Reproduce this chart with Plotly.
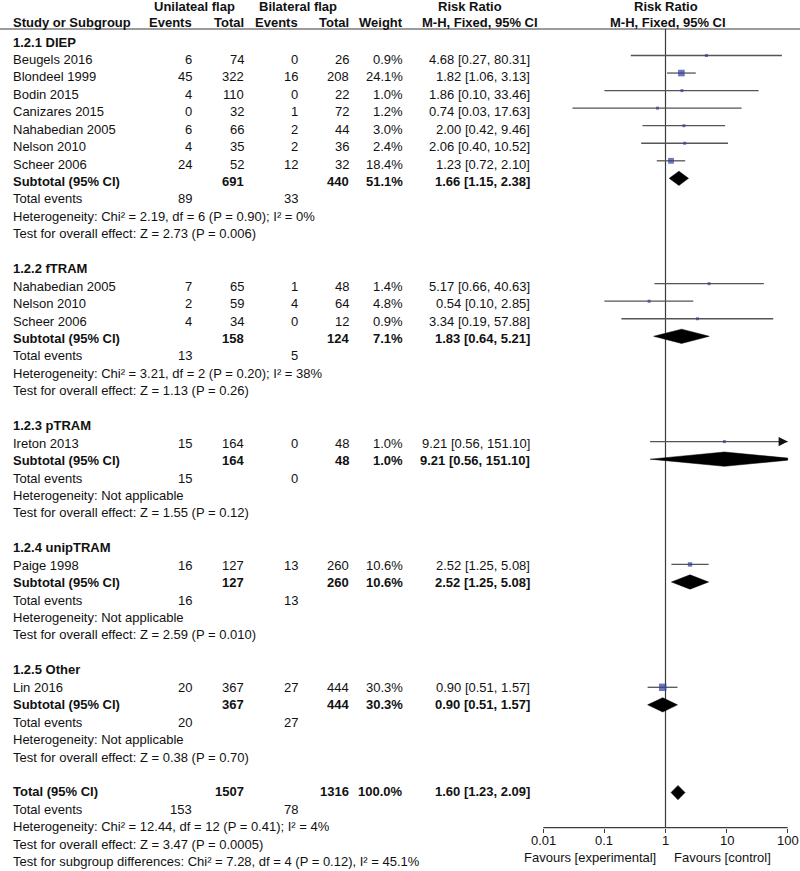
import math
import plotly.graph_objects as go

# ---------------- data ----------------
group_labels = ["1.2.1 DIEP", "1.2.2 fTRAM", "1.2.3 pTRAM", "1.2.4 unipTRAM", "1.2.5 Other"]

study_group = [0, 0, 0, 0, 0, 0, 0, 1, 1, 1, 2, 3, 4]
study_names = ["Beugels 2016", "Blondeel 1999", "Bodin 2015", "Canizares 2015",
               "Nahabedian 2005", "Nelson 2010", "Scheer 2006",
               "Nahabedian 2005", "Nelson 2010", "Scheer 2006",
               "Ireton 2013", "Paige 1998", "Lin 2016"]
uni_events = [6, 45, 4, 0, 6, 4, 24, 7, 2, 4, 15, 16, 20]
uni_total = [74, 322, 110, 32, 66, 35, 52, 65, 59, 34, 164, 127, 367]
bi_events = [0, 16, 0, 1, 2, 2, 12, 1, 4, 0, 0, 13, 27]
bi_total = [26, 208, 22, 72, 44, 36, 32, 48, 64, 12, 48, 260, 444]
weights = [0.9, 24.1, 1.0, 1.2, 3.0, 2.4, 18.4, 1.4, 4.8, 0.9, 1.0, 10.6, 30.3]
rr = [4.68, 1.82, 1.86, 0.74, 2.00, 2.06, 1.23, 5.17, 0.54, 3.34, 9.21, 2.52, 0.90]
rr_lo = [0.27, 1.06, 0.10, 0.03, 0.42, 0.40, 0.72, 0.66, 0.10, 0.19, 0.56, 1.25, 0.51]
rr_hi = [80.31, 3.13, 33.46, 17.63, 9.46, 10.52, 2.10, 40.63, 2.85, 57.88, 151.10, 5.08, 1.57]

sub_uni_total = [691, 158, 164, 127, 367]
sub_bi_total = [440, 124, 48, 260, 444]
sub_weight = [51.1, 7.1, 1.0, 10.6, 30.3]
sub_rr = [1.66, 1.83, 9.21, 2.52, 0.90]
sub_lo = [1.15, 0.64, 0.56, 1.25, 0.51]
sub_hi = [2.38, 5.21, 151.10, 5.08, 1.57]
sub_uni_events = [89, 13, 15, 16, 20]
sub_bi_events = [33, 5, 0, 13, 27]
sub_heterogeneity = ["Heterogeneity: Chi² = 2.19, df = 6 (P = 0.90); I² = 0%",
                     "Heterogeneity: Chi² = 3.21, df = 2 (P = 0.20); I² = 38%",
                     "Heterogeneity: Not applicable",
                     "Heterogeneity: Not applicable",
                     "Heterogeneity: Not applicable"]
sub_overall = ["Test for overall effect: Z = 2.73 (P = 0.006)",
               "Test for overall effect: Z = 1.13 (P = 0.26)",
               "Test for overall effect: Z = 1.55 (P = 0.12)",
               "Test for overall effect: Z = 2.59 (P = 0.010)",
               "Test for overall effect: Z = 0.38 (P = 0.70)"]

total_uni_total = 1507
total_bi_total = 1316
total_weight = 100.0
total_rr, total_lo, total_hi = 1.60, 1.23, 2.09
total_uni_events, total_bi_events = 153, 78
total_notes = ["Heterogeneity: Chi² = 12.44, df = 12 (P = 0.41); I² = 4%",
               "Test for overall effect: Z = 3.47 (P = 0.0005)",
               "Test for subgroup differences: Chi² = 7.28, df = 4 (P = 0.12), I² = 45.1%"]

tick_vals = [0.01, 0.1, 1, 10, 100]
tick_text = ["0.01", "0.1", "1", "10", "100"]
favours_left = "Favours [experimental]"
favours_right = "Favours [control]"

# ---------------- geometry ----------------
W, H = 800, 871
ROW0 = 42.0           # pixel y of first text row
ROWH = 17.44          # pixels per text row
FROW0, FROWH = 37.95, 17.55   # pixel y / spacing of forest-plot rows
X_LO, X_HI = 543.3, 787.7     # pixel positions of 0.01 and 100
PPD = (X_HI - X_LO) / 4.0
DOM_L = 500.0

FONT = "Liberation Sans, Arial, sans-serif"
FS = 13
TXT = "#111111"

def px(x):
    return x / W

def prow(y):
    return (y - ROW0) / ROWH

def frow(r):
    return prow(FROW0 + FROWH * r)

fig = go.Figure()
ann = []

def text(x, row, s, anchor="left", bold=False, size=FS, xref="paper"):
    ann.append(dict(x=px(x) if xref == "paper" else x, y=row, xref=xref, yref="y",
                    text=("<b>%s</b>" % s) if bold else s,
                    showarrow=False, xanchor=anchor, yanchor="middle",
                    font=dict(family=FONT, size=size, color=TXT)))

# column right edges
C_NAME = 11
C_UE = 194
C_UT = 246
C_BE = 300
C_BT = 351
C_W = 405
C_RR = 532

# headers
r1 = prow(6.3)
text(194, r1, "Unilateal flap", "center", True)
text(298, r1, "Bilateral flap", "center", True)
text(470, r1, "Risk Ratio", "center", True)
text(666, r1, "Risk Ratio", "center", True)
HR = prow(22.5)
text(C_NAME, HR, "Study or Subgroup", "left", True)
text(C_UE, HR, "Events", "right", True)
text(C_UT, HR, "Total", "right", True)
text(C_BE, HR, "Events", "right", True)
text(C_BT, HR, "Total", "right", True)
text(C_W, HR, "Weight", "right", True)
text(480, HR, "M-H, Fixed, 95% CI", "center", True)
text(668, HR, "M-H, Fixed, 95% CI", "center", True)

def fmt_rr(r, l, h):
    return "%.2f [%.2f, %.2f]" % (r, l, h)

study_rows = []
sub_rows = []
row = 0
for g, label in enumerate(group_labels):
    text(C_NAME, row, label, "left", True)
    row += 1
    for i in range(len(study_names)):
        if study_group[i] != g:
            continue
        text(C_NAME, row, study_names[i])
        text(C_UE, row, str(uni_events[i]), "right")
        text(C_UT, row, str(uni_total[i]), "right")
        text(C_BE, row, str(bi_events[i]), "right")
        text(C_BT, row, str(bi_total[i]), "right")
        text(C_W, row, "%.1f%%" % weights[i], "right")
        text(C_RR, row, fmt_rr(rr[i], rr_lo[i], rr_hi[i]), "right")
        study_rows.append(row)
        row += 1
    text(C_NAME, row, "Subtotal (95% CI)", "left", True)
    text(C_UT, row, str(sub_uni_total[g]), "right", True)
    text(C_BT, row, str(sub_bi_total[g]), "right", True)
    text(C_W, row, "%.1f%%" % sub_weight[g], "right", True)
    text(C_RR, row, fmt_rr(sub_rr[g], sub_lo[g], sub_hi[g]), "right", True)
    sub_rows.append(row)
    row += 1
    text(C_NAME, row, "Total events")
    text(C_UE, row, str(sub_uni_events[g]), "right")
    text(C_BE, row, str(sub_bi_events[g]), "right")
    row += 1
    text(C_NAME, row, sub_heterogeneity[g])
    row += 1
    text(C_NAME, row, sub_overall[g])
    row += 2

total_row = row
text(C_NAME, row, "Total (95% CI)", "left", True)
text(C_UT, row, str(total_uni_total), "right", True)
text(C_BT, row, str(total_bi_total), "right", True)
text(C_W, row, "%.1f%%" % total_weight, "right", True)
text(C_RR, row, fmt_rr(total_rr, total_lo, total_hi), "right", True)
row += 1
text(C_NAME, row, "Total events")
text(C_UE, row, str(total_uni_events), "right")
text(C_BE, row, str(total_bi_events), "right")
row += 1
for s in total_notes:
    text(C_NAME, row, s)
    row += 1

# ---------------- forest plot ----------------
AXIS_PX = 827.7
axis_row = prow(AXIS_PX)
header_line_row = prow(29.0)
XMIN, XMAX = tick_vals[0], tick_vals[-1]

LINE = "#3a3a3a"
# vertical line at 1
fig.add_trace(go.Scatter(x=[1, 1], y=[header_line_row, axis_row], mode="lines",
                         line=dict(color=LINE, width=1.2), hoverinfo="skip", showlegend=False))
# axis line
fig.add_trace(go.Scatter(x=[XMIN, XMAX], y=[axis_row, axis_row], mode="lines",
                         line=dict(color=LINE, width=1.2), hoverinfo="skip", showlegend=False))

# CI lines (clipped at the axis limits, with an arrow where clipped)
for i, r in enumerate(study_rows):
    fr = frow(r)
    lo_c = max(rr_lo[i], XMIN)
    hi_c = min(rr_hi[i], XMAX)
    fig.add_trace(go.Scatter(x=[lo_c, hi_c], y=[fr, fr], mode="lines",
                             line=dict(color="#555555", width=1.3), hoverinfo="skip",
                             showlegend=False))
    if rr_hi[i] > XMAX:
        ann.append(dict(x=math.log10(XMAX), y=fr, xref="x", yref="y", text="",
                        showarrow=True, ax=-10, ay=0, arrowhead=2, arrowsize=1.4,
                        arrowwidth=1.3, arrowcolor="#111111", standoff=0))

sizes = [max(3.0, 1.35 * math.sqrt(w)) for w in weights]
fig.add_trace(go.Scatter(x=rr, y=[frow(r) for r in study_rows], mode="markers",
                         marker=dict(symbol="square", size=sizes, color="#2e3f9e", line=dict(width=0)),
                         hoverinfo="skip", showlegend=False, cliponaxis=False))

DH = 0.41
def diamond(r, est, lo, hi):
    fr = frow(r)
    le, ll, lh = math.log10(est), math.log10(lo), math.log10(hi)
    xs = [lo, est]
    ys = [fr, fr - DH]
    if hi > XMAX:
        f = (lh - math.log10(XMAX)) / (lh - le)
        xs += [XMAX, XMAX]
        ys += [fr - DH * f, fr + DH * f]
    else:
        xs += [hi]
        ys += [fr]
    xs += [est, lo]
    ys += [fr + DH, fr]
    fig.add_trace(go.Scatter(x=xs, y=ys, mode="lines", fill="toself", fillcolor="#000000",
                             line=dict(color="#000000", width=0.5), hoverinfo="skip",
                             showlegend=False))

for g, r in enumerate(sub_rows):
    diamond(r, sub_rr[g], sub_lo[g], sub_hi[g])
diamond(total_row, total_rr, total_lo, total_hi)

# header line
shapes = [dict(type="line", xref="paper", yref="y", x0=0, x1=1, y0=header_line_row, y1=header_line_row,
               line=dict(color=LINE, width=1.2))]

# tick labels placed under the axis line
tick_row = prow(840.7)
for v, t in zip(tick_vals, tick_text):
    text(math.log10(v), tick_row, t, "center", xref="x")

# favours labels
fav_row = prow(857.0)
text(658, fav_row, favours_left, "right")
text(672, fav_row, favours_right, "left")

x_range = [-2 - (X_LO - DOM_L) / PPD, 2 + (W - X_HI) / PPD]
y_range = [(H - ROW0) / ROWH, -ROW0 / ROWH]

fig.update_layout(
    width=W, height=H, autosize=False,
    margin=dict(l=0, r=0, t=0, b=0),
    paper_bgcolor="white", plot_bgcolor="rgba(0,0,0,0)",
    annotations=ann, shapes=shapes,
    xaxis=dict(type="log", domain=[DOM_L / W, 1.0], range=x_range,
               anchor="free", position=1 - AXIS_PX / H,
               showline=False, showgrid=False, zeroline=False,
               tickmode="array", tickvals=tick_vals, showticklabels=False,
               ticks="outside", ticklen=4, tickwidth=1.2, tickcolor=LINE,
               fixedrange=True),
    yaxis=dict(domain=[0, 1], range=y_range, visible=False, showgrid=False,
               zeroline=False, fixedrange=True),
)

fig.write_html("out.html", config={"displayModeBar": False},
               post_script="document.body.style.margin='0px';")
